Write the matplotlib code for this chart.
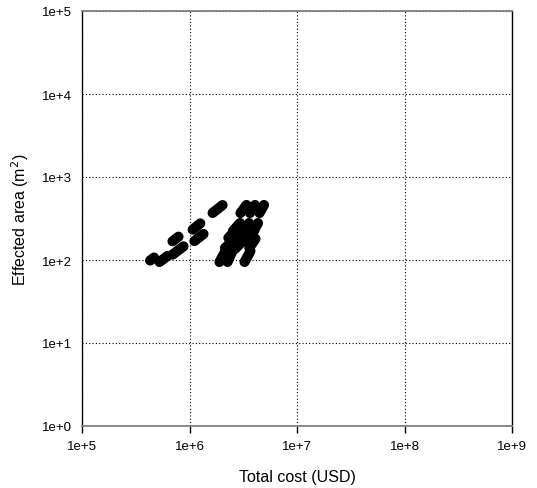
import matplotlib
matplotlib.use("Agg")
import matplotlib.pyplot as plt

plt.rcParams['font.family'] = ['Liberation Sans', 'DejaVu Sans']

# each run is a short sweep drawn as a thick round-capped stroke
cost_start = [4.3e5, 5.26e5, 6.95e5, 6.95e5, 1.07e6, 1.11e6, 1.64e6,
              2.98e6, 3.65e6, 4.48e6,
              2.54e6, 3.28e6, 3.98e6,
              2.30e6, 2.90e6, 3.73e6,
              2.14e6, 2.65e6, 3.60e6,
              1.90e6, 2.26e6, 3.25e6]
cost_end = [4.68e5, 6.24e5, 8.8e5, 7.9e5, 1.26e6, 1.35e6, 2.03e6,
            3.39e6, 4.07e6, 4.93e6,
            2.95e6, 3.58e6, 4.34e6,
            2.70e6, 3.30e6, 4.05e6,
            2.65e6, 3.28e6, 4.11e6,
            2.16e6, 2.51e6, 3.69e6]
area_start = [98.6, 94.6, 116, 168, 232, 169, 369,
              368, 368, 368,
              224, 230, 230,
              185, 190, 190,
              140, 136, 140,
              94.6, 94.6, 94.6]
area_end = [107, 112, 146, 191, 276, 206, 459,
            460, 460, 460,
            279, 279, 279,
            230, 235, 235,
            180, 180, 180,
            128, 128, 128]

x_ticks = [1e5, 1e6, 1e7, 1e8, 1e9]
x_labels = ['1e+5', '1e+6', '1e+7', '1e+8', '1e+9']
y_ticks = [1e0, 1e1, 1e2, 1e3, 1e4, 1e5]
y_labels = ['1e+0', '1e+1', '1e+2', '1e+3', '1e+4', '1e+5']

fig = plt.figure(figsize=(5.37, 4.89), dpi=100)
ax = fig.add_axes([82 / 537, 1 - 427 / 489, 430 / 537, 415 / 489])

for xs, xe, ys, ye in zip(cost_start, cost_end, area_start, area_end):
    ax.plot([xs, xe], [ys, ye], color='black', lw=7.3,
            solid_capstyle='round', zorder=3)

ax.set_xscale('log')
ax.set_yscale('log')
ax.set_xlim(1e5, 1e9)
ax.set_ylim(1e0, 1e5)
ax.set_xticks(x_ticks)
ax.set_xticklabels(x_labels)
ax.set_yticks(y_ticks)
ax.set_yticklabels(y_labels)
ax.minorticks_off()

ax.grid(True, which='major', color='black', linestyle=(0, (1, 2)), linewidth=0.8)
ax.tick_params(axis='x', direction='out', length=5, width=1, pad=5, labelsize=9.5)
ax.tick_params(axis='y', length=0, pad=7, labelsize=9.5)

for side in ['top', 'bottom']:
    ax.spines[side].set_color('#808080')
    ax.spines[side].set_linewidth(1.3)
for side in ['left', 'right']:
    ax.spines[side].set_color('black')
    ax.spines[side].set_linewidth(1)

ax.set_xlabel('Total cost (USD)', fontsize=11.5, labelpad=12)
ax.set_ylabel('Effected area (m$^2$)', fontsize=11.5, labelpad=8)

fig.savefig('out.png', dpi=100)
